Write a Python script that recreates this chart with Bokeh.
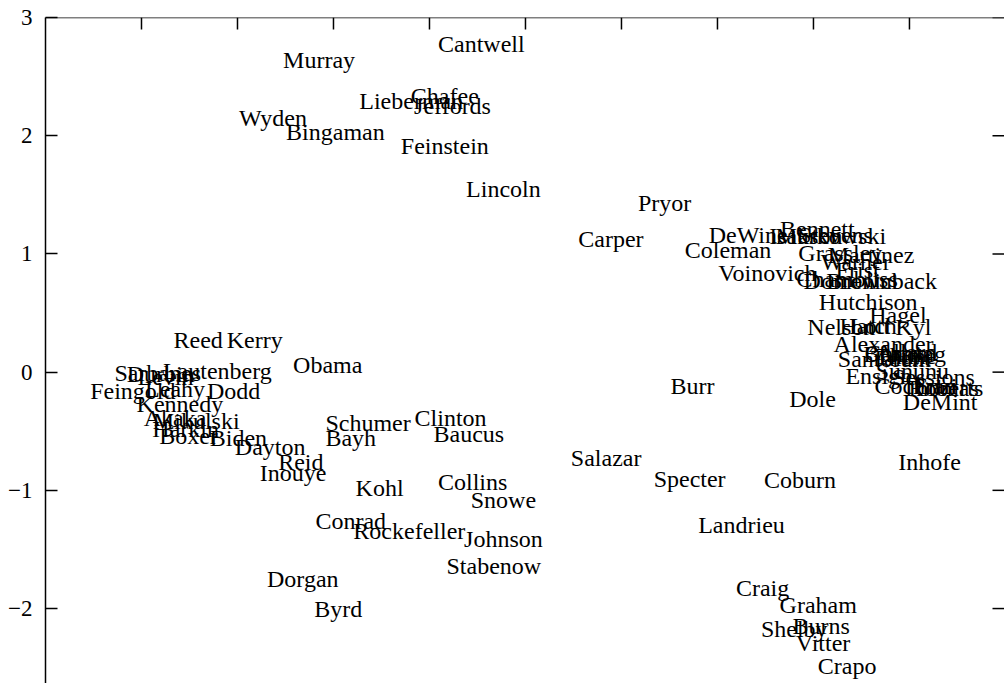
import math
from bokeh.plotting import figure
from bokeh.models import ColumnDataSource, Range1d, FixedTicker, Span
from bokeh.core.properties import value
from bokeh.embed import file_html
from bokeh.resources import INLINE

# Senators placed by their two-dimensional voting scores
senators = [
    "Murray", "Cantwell", "Wyden", "Bingaman", "Lieberman", "Chafee", "Jeffords",
    "Feinstein", "Lincoln", "Pryor", "Carper", "Coleman", "DeWine", "Voinovich",
    "Reed", "Kerry", "Lautenberg", "Sarbanes", "Durbin", "Levin", "Feingold", "Dodd",
    "Leahy", "Kennedy", "Mikulski", "Akaka", "Harkin", "Boxer", "Biden", "Dayton",
    "Reid", "Inouye", "Obama", "Schumer", "Bayh", "Clinton", "Baucus", "Kohl",
    "Collins", "Snowe", "Conrad", "Rockefeller", "Johnson", "Stabenow", "Dorgan",
    "Byrd", "Salazar", "Burr", "Specter", "Coburn", "Landrieu", "Dole", "DeMint",
    "Inhofe", "Craig", "Graham", "Shelby", "Burns", "Vitter", "Crapo",
    "Bennett", "Murkowski", "Grassley", "Martinez", "Frist", "Chambliss",
    "Brownback", "Hutchison", "Hagel", "Nelson", "Kyl", "Hatch", "Alexander",
    "Cornyn", "Allard", "Bunning", "Santorum", "Ensign", "Sununu", "Sessions",
    "Cochran", "Thomas", "Roberts", "Enzi",
    "Isakson", "Stevens", "Warner", "Domenici", "Lott", "Thune", "Talent",
]
dim1 = [
    -2.15, -0.46, -2.63, -1.98, -1.19, -0.84, -0.76,
    -0.84, -0.23, 1.45, 0.89, 2.11, 2.32, 2.52,
    -3.41, -2.82, -3.21, -3.83, -3.80, -3.75, -4.09, -3.04,
    -3.65, -3.60, -3.43, -3.65, -3.54, -3.51, -2.99, -2.66,
    -2.34, -2.42, -2.06, -1.64, -1.82, -0.78, -0.59, -1.52,
    -0.55, -0.23, -1.82, -1.21, -0.23, -0.33, -2.32,
    -1.95, 0.84, 1.74, 1.71, 2.86, 2.25, 2.99, 4.32,
    4.21, 2.47, 3.05, 2.80, 3.08, 3.10, 3.35,
    3.04, 3.18, 3.28, 3.60, 3.46, 3.35,
    3.71, 3.57, 3.88, 3.29, 4.04, 3.57, 3.73,
    3.91, 3.97, 3.95, 3.74, 3.68, 4.03, 4.25,
    4.06, 4.32, 4.38, 4.27,
    2.92, 3.23, 3.44, 3.39, 3.59, 3.96, 3.91,
]
dim2 = [
    2.64, 2.78, 2.15, 2.03, 2.29, 2.34, 2.25,
    1.91, 1.55, 1.43, 1.13, 1.03, 1.16, 0.84,
    0.27, 0.27, 0.01, -0.01, -0.02, -0.04, -0.16, -0.16,
    -0.14, -0.27, -0.41, -0.39, -0.48, -0.54, -0.56, -0.63,
    -0.76, -0.85, 0.06, -0.43, -0.56, -0.39, -0.52, -0.98,
    -0.93, -1.08, -1.26, -1.34, -1.41, -1.64, -1.75,
    -2.00, -0.73, -0.12, -0.90, -0.91, -1.29, -0.23, -0.25,
    -0.76, -1.83, -1.97, -2.17, -2.15, -2.29, -2.49,
    1.21, 1.15, 1.01, 0.99, 0.86, 0.79,
    0.77, 0.59, 0.48, 0.38, 0.38, 0.39, 0.24,
    0.16, 0.17, 0.15, 0.11, -0.03, 0.01, -0.04,
    -0.12, -0.13, -0.13, -0.12,
    1.15, 1.16, 0.93, 0.77, 0.39, 0.14, 0.12,
]
y_ticks = [-2, -1, 0, 1, 2, 3]
x_ticks = [-4, -3, -2, -1, 0, 1, 2, 3, 4]

X0, X1 = -5, 4.99
Y0, Y1 = -2.634, 3

src = ColumnDataSource(dict(x=dim1, y=dim2, name=senators))

p = figure(width=1004, height=683, output_backend="svg", toolbar_location=None,
           x_range=Range1d(X0, X1), y_range=Range1d(Y0, Y1),
           x_axis_location=None, y_axis_location="left",
           min_border_left=45, min_border_top=17, min_border_right=0,
           min_border_bottom=0)
p.grid.visible = False
p.outline_line_color = None
p.background_fill_color = "white"
p.border_fill_color = "white"

serif = "Liberation Serif"

# left axis with labelled, inward-pointing ticks
left = p.yaxis[0]
left.ticker = FixedTicker(ticks=y_ticks)
left.major_tick_in = 12
left.major_tick_out = 0
left.minor_tick_line_color = None
left.axis_line_width = 1.5
left.axis_line_color = "black"
left.major_tick_line_width = 1.5
left.major_label_standoff = 13
left.major_label_text_font = serif
left.major_label_text_font_size = "23px"
left.major_label_text_color = "black"

# top border line with unlabelled inward ticks
p.add_layout(Span(location=Y1, dimension="width", line_color="black", line_width=1.5))
p.ray(x=x_ticks, y=[Y1] * len(x_ticks), length=12, length_units="screen",
      angle=-math.pi / 2, line_color="black", line_width=1.5)
# inward ticks hanging off the right border
p.ray(x=[X1] * len(y_ticks), y=y_ticks, length=12, length_units="screen",
      angle=math.pi, line_color="black", line_width=1.5)

p.text(x="x", y="y", text="name", source=src,
       text_font=value(serif), text_font_size="24px",
       text_align="center", text_baseline="middle", text_color="black")

open("out.html", "w").write(file_html(p, INLINE))
